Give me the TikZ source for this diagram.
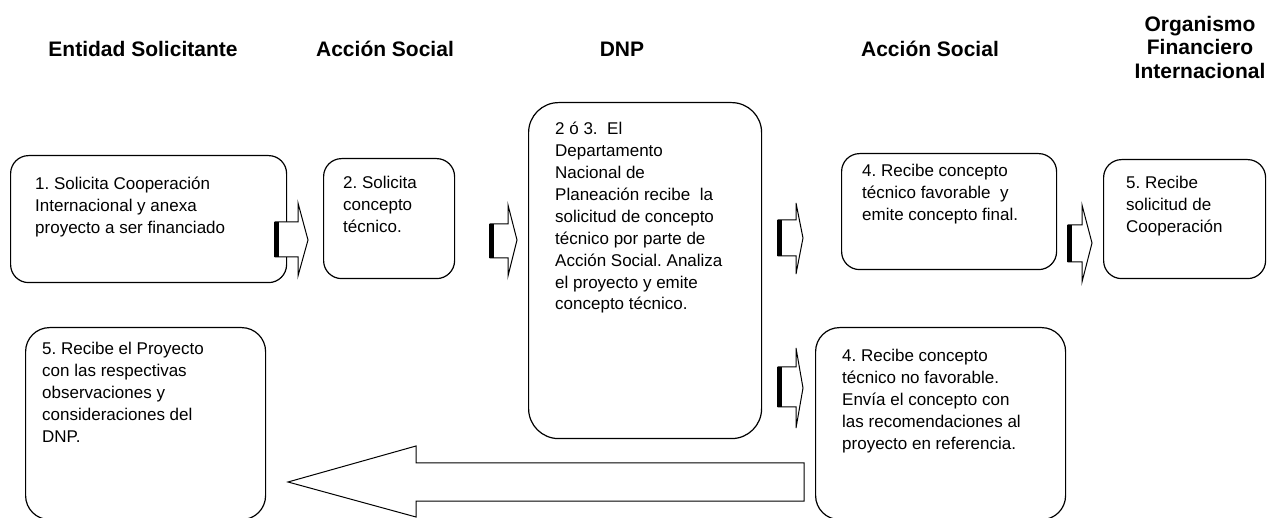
\documentclass[tikz,border=0pt]{standalone}
\usepackage{fontspec}
\setmainfont{Liberation Sans}
\frenchspacing
\newcommand\rblockarrow[8]{%
  \draw[barrow] (#1,#4) -- (#2,#4) -- (#2,#6) -- (#3,#8) -- (#2,#7) -- (#2,#5) -- (#1,#5) -- cycle;
  \fill (#1-0.6,#4) rectangle (#1+4.2,#5);
}
\begin{document}
\begin{tikzpicture}[x=1pt,y=-1pt,
  box/.style={draw, line width=1.2pt, rounded corners=#1, anchor=north west, inner sep=0pt},
  box/.default=18pt,
  body/.style={anchor=north west, inner sep=0pt, align=left, font=\fontsize{17}{21.9}\selectfont},
  hdr/.style={anchor=base, inner sep=0pt, align=center, font=\fontsize{21}{23.3}\selectfont\bfseries},
  barrow/.style={draw, fill=white, line width=1pt, line join=miter}]
\useasboundingbox (0,0) rectangle (1267,518);
\fill[white] (0,0) rectangle (1267,518);

% headers
\node[hdr] (h1) at (143,57) {Entidad Solicitante};
\node[hdr] (h2) at (385,57) {Acción Social};
\node[hdr] (h3) at (622,57) {DNP};
\node[hdr] (h4) at (930,57) {Acción Social};
\node[hdr] (h5a) at (1200,32) {Organismo};
\node[hdr] (h5b) at (1200,55) {Financiero};
\node[hdr] (h5c) at (1200,79) {Internacional};

% boxes
\node[box, minimum width=276pt, minimum height=127pt] (b1) at (10,155) {};
\node[box, minimum width=131pt, minimum height=120pt] (b2) at (323,158) {};
\node[box=30pt, minimum width=233pt, minimum height=336pt] (b3) at (528,102) {};
\node[box, minimum width=215pt, minimum height=116pt] (b4) at (841,153) {};
\node[box, minimum width=162pt, minimum height=119pt] (b5) at (1103,159) {};
\node[box=24pt, minimum width=250pt, minimum height=192pt] (b6) at (815,327) {};
\node[box=24pt, minimum width=240pt, minimum height=192pt] (b7) at (25,327) {};

% texts
\node[body] (t1) at (35,177) {1. Solicita Cooperación\\Internacional y anexa\\proyecto a ser financiado};
\node[body] (t2) at (343,176) {2. Solicita\\concepto\\técnico.};
\node[body] (t3) at (555,122) {2 ó 3.\ \ El\\Departamento\\Nacional de\\Planeación recibe\ \ la\\solicitud de concepto\\técnico por parte de\\Acción Social. Analiza\\el proyecto y emite\\concepto técnico.};
\node[body] (t4) at (862,164) {4. Recibe concepto\\técnico favorable\ \ y\\emite concepto final.};
\node[body] (t5) at (1126,176) {5. Recibe\\solicitud de\\Cooperación};
\node[body] (t6) at (842,349) {4. Recibe concepto\\técnico no favorable.\\Envía el concepto con\\las recomendaciones al\\proyecto en referencia.};
\node[body] (t7) at (42,342) {5. Recibe el Proyecto\\con las respectivas\\observaciones y\\consideraciones del\\DNP.};

% block arrows
\rblockarrow{275}{298}{308}{222}{257}{203}{276}{240}
\rblockarrow{490}{508}{517}{224}{258}{205}{276}{240}
\rblockarrow{778}{796}{803}{220}{256}{203}{274}{238}
\rblockarrow{778}{796}{803}{367}{407}{348}{428}{388}
\rblockarrow{1068}{1082}{1092}{225}{262}{205}{282}{243}

% big left arrow
\draw[barrow] (804,463) -- (416,463) -- (416,446) -- (288,482) -- (416,517) -- (416,501) -- (804,501) -- cycle;
\end{tikzpicture}
\end{document}
